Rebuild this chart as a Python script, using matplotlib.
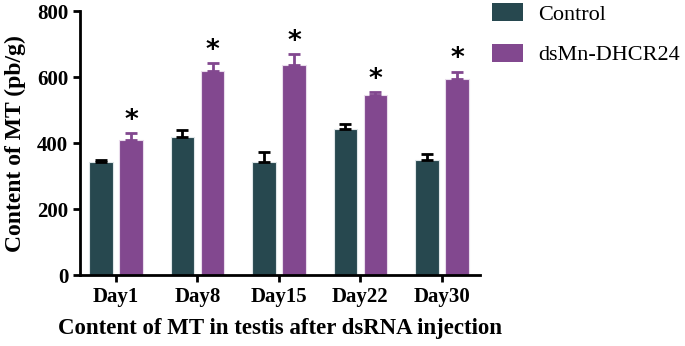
import matplotlib
matplotlib.use("Agg")
import matplotlib.pyplot as plt
import numpy as np
from matplotlib.patches import Patch

categories = ["Day1", "Day8", "Day15", "Day22", "Day30"]
control = [342, 418, 342, 442, 348]
control_err = [6, 22, 31, 16, 19]
treat = [409, 618, 636, 546, 594]
treat_err = [21, 24, 34, 8, 22]
series_names = ["Control", "dsMn-DHCR24"]
yticks = [0, 200, 400, 600, 800]

c_ctrl = "#27484F"
c_trt = "#82488F"

plt.rcParams['font.family'] = ['Liberation Serif', 'DejaVu Serif']
fig = plt.figure(figsize=(6.85, 3.46), dpi=100)
ax = fig.add_axes([0.117, 0.205, 0.584, 0.763])

x = np.arange(len(categories))
w = 0.29
off = 0.185
ax.bar(x - off, control, w, color=c_ctrl, edgecolor="#dfe6e8", linewidth=0.8, zorder=2)
ax.bar(x + off, treat, w, color=c_trt, edgecolor="#e9dcec", linewidth=0.8, zorder=2)
ax.errorbar(x - off, control, yerr=[np.zeros(len(control)), control_err], fmt='none',
            ecolor='black', elinewidth=2, capsize=4, capthick=2, zorder=3)
ax.errorbar(x + off, treat, yerr=[np.zeros(len(treat)), treat_err], fmt='none',
            ecolor=c_trt, elinewidth=2, capsize=4, capthick=2, zorder=3)
for xi, v, e in zip(x + off, treat, treat_err):
    ax.text(xi, v + e - 2, "*", ha='center', va='bottom', fontsize=19,
            family='DejaVu Sans', fontweight='bold', color='black')

ax.set_xlim(-0.44, 4.47)
ax.set_ylim(0, 800)
ax.set_yticks(yticks)
ax.set_xticks(x)
ax.set_xticklabels(categories)
for s in ['top', 'right']:
    ax.spines[s].set_visible(False)
for s in ['left', 'bottom']:
    ax.spines[s].set_linewidth(2)
ax.tick_params(axis='both', width=2, length=5, labelsize=15, direction='out')
for lab in ax.get_xticklabels() + ax.get_yticklabels():
    lab.set_fontweight('bold')
ax.set_ylabel("Content of MT (pb/g)", fontsize=17, fontweight='bold', labelpad=8)
ax.set_xlabel("Content of MT in testis after dsRNA injection", fontsize=16.5,
              fontweight='bold', labelpad=8)

handles = [Patch(facecolor=c_ctrl), Patch(facecolor=c_trt)]
fig.legend(handles, series_names, loc='upper left', bbox_to_anchor=(0.718, 0.99),
           frameon=False, fontsize=16, handlelength=1.4, handleheight=0.85,
           handletextpad=0.68, labelspacing=0.85, borderaxespad=0, borderpad=0)

fig.savefig("out.png", dpi=100)
